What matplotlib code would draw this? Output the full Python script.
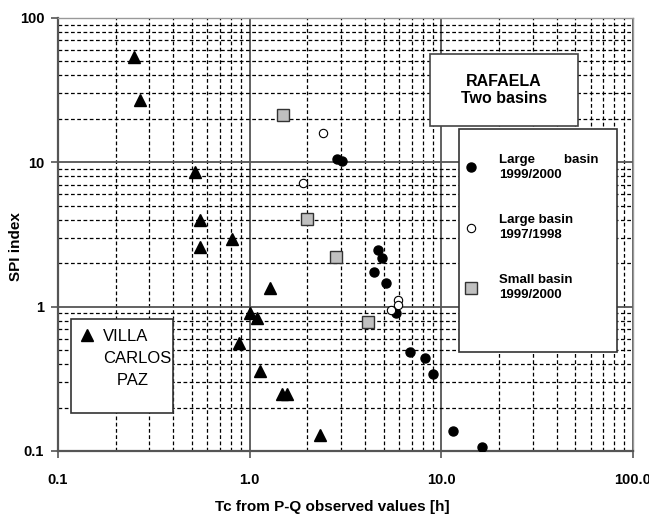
import matplotlib
matplotlib.use("Agg")
import matplotlib.pyplot as plt
from matplotlib.lines import Line2D
from matplotlib.patches import Rectangle
from matplotlib.ticker import LogLocator, NullFormatter

plt.rcParams['font.family'] = ['Liberation Sans', 'DejaVu Sans']

# Villa Carlos Paz (triangles)
vcp_tc = [0.25, 0.268, 0.518, 0.55, 0.55, 0.805, 1.28, 1.0, 1.09, 0.88, 1.13, 1.47, 1.56, 2.33]
vcp_spi = [53.7, 27.0, 8.6, 4.0, 2.6, 2.95, 1.34, 0.91, 0.83, 0.56, 0.36, 0.25, 0.25, 0.13]

# Rafaela, large basin 1999/2000 (filled circles)
lb00_tc = [2.84, 3.04, 4.69, 4.88, 4.47, 5.14, 5.8, 6.86, 8.21, 9.07, 11.45, 16.2]
lb00_spi = [10.5, 10.2, 2.47, 2.16, 1.75, 1.45, 0.9, 0.487, 0.44, 0.34, 0.137, 0.106]

# Rafaela, large basin 1997/1998 (open circles)
lb98_tc = [2.42, 1.90, 5.92, 5.97, 5.46]
lb98_spi = [15.9, 7.2, 1.11, 1.03, 0.95]

# Rafaela, small basin 1999/2000 (grey squares)
sb00_tc = [1.50, 1.98, 2.82, 4.16]
sb00_spi = [21.3, 4.03, 2.22, 0.785]

x_ticks = [0.1, 1, 10, 100]
x_labels = ['0.1', '1.0', '10.0', '100.0']
y_ticks = [0.1, 1, 10, 100]
y_labels = ['0.1', '1', '10', '100']

fig = plt.figure(figsize=(6.49, 5.17), dpi=100)
ax = fig.add_axes([0.0894, 0.1277, 0.886, 0.8375])
ax.set_xscale('log')
ax.set_yscale('log')
ax.set_xlim(0.1, 100)
ax.set_ylim(0.1, 100)

ax.set_xticks(x_ticks, x_labels)
ax.set_yticks(y_ticks, y_labels)
ax.xaxis.set_minor_locator(LogLocator(subs=range(2, 10)))
ax.yaxis.set_minor_locator(LogLocator(subs=range(2, 10)))
ax.xaxis.set_minor_formatter(NullFormatter())
ax.yaxis.set_minor_formatter(NullFormatter())
ax.tick_params(which='minor', length=0)
ax.tick_params(axis='x', which='major', length=5, width=1.2, color='#555', pad=11, labelsize=10.5)
ax.tick_params(axis='y', which='major', length=5, width=1.2, color='#555', pad=5, labelsize=10.5)
for lab in ax.get_xticklabels() + ax.get_yticklabels():
    lab.set_fontweight('bold')

ax.grid(which='minor', color='black', linestyle=(0, (3, 2)), linewidth=0.9)
ax.grid(which='major', color='#555', linestyle='-', linewidth=1.3)
ax.set_axisbelow(True)

for side in ['left', 'bottom']:
    ax.spines[side].set_color('#555')
    ax.spines[side].set_linewidth(1.6)
for side in ['top', 'right']:
    ax.spines[side].set_color('#999')
    ax.spines[side].set_linewidth(1.0)

ax.set_xlabel('Tc from P-Q observed values [h]', fontsize=11, fontweight='bold')
ax.set_ylabel('SPI index', fontsize=11, fontweight='bold')
ax.xaxis.set_label_coords(0.477, -0.113)
ax.yaxis.set_label_coords(-0.061, 0.473)

h_vcp, = ax.plot(vcp_tc, vcp_spi, linestyle='none', marker='^', ms=8, color='black', zorder=3)
h_lb00, = ax.plot(lb00_tc, lb00_spi, linestyle='none', marker='o', ms=6.5, color='black', zorder=3)
h_lb98, = ax.plot(lb98_tc, lb98_spi, linestyle='none', marker='o', ms=6, mfc='white', mec='black', mew=0.8, zorder=3)
h_sb00, = ax.plot(sb00_tc, sb00_spi, linestyle='none', marker='s', ms=9, mfc='#c0c0c0', mec='#333', mew=1, zorder=3)

# RAFAELA title box
ax.add_patch(Rectangle((0.647, 0.751), 0.257, 0.165, transform=ax.transAxes,
                       facecolor='white', edgecolor='#444', linewidth=1.2, zorder=4))
ax.text(0.775, 0.833, 'RAFAELA\nTwo basins', transform=ax.transAxes, ha='center', va='center',
        fontsize=11.5, fontweight='bold', linespacing=1.15, zorder=5)

# Rafaela legend box
ax.add_patch(Rectangle((0.697, 0.229), 0.275, 0.515, transform=ax.transAxes,
                       facecolor='white', edgecolor='#333', linewidth=1.2, zorder=4))
leg1 = ax.legend([h_lb00, h_lb98, h_sb00],
                 ['Large        basin\n1999/2000', 'Large basin\n1997/1998', 'Small basin\n1999/2000'],
                 loc='upper left', bbox_to_anchor=(0.707, 0.686), frameon=False, borderpad=0,
                 borderaxespad=0, handlelength=1.0, handletextpad=1.6, labelspacing=2.5,
                 prop={'weight': 'bold', 'size': 9.5})
for t in leg1.get_texts():
    t.set_linespacing(1.35)
leg1.set_zorder(6)
ax.add_artist(leg1)

# Villa Carlos Paz legend box
ax.add_patch(Rectangle((0.022, 0.088), 0.178, 0.216, transform=ax.transAxes,
                       facecolor='white', edgecolor='#333', linewidth=1.2, zorder=4))
blank = Line2D([], [], linestyle='none')
leg2 = ax.legend([h_vcp, blank, blank], ['VILLA', 'CARLOS', '   PAZ'],
                 loc='upper left', bbox_to_anchor=(0.038, 0.281), frameon=False, borderpad=0,
                 borderaxespad=0, handlelength=0.9, handletextpad=0.5, labelspacing=0.4,
                 prop={'size': 12})
leg2.set_zorder(6)

fig.savefig('out.png', dpi=100)
